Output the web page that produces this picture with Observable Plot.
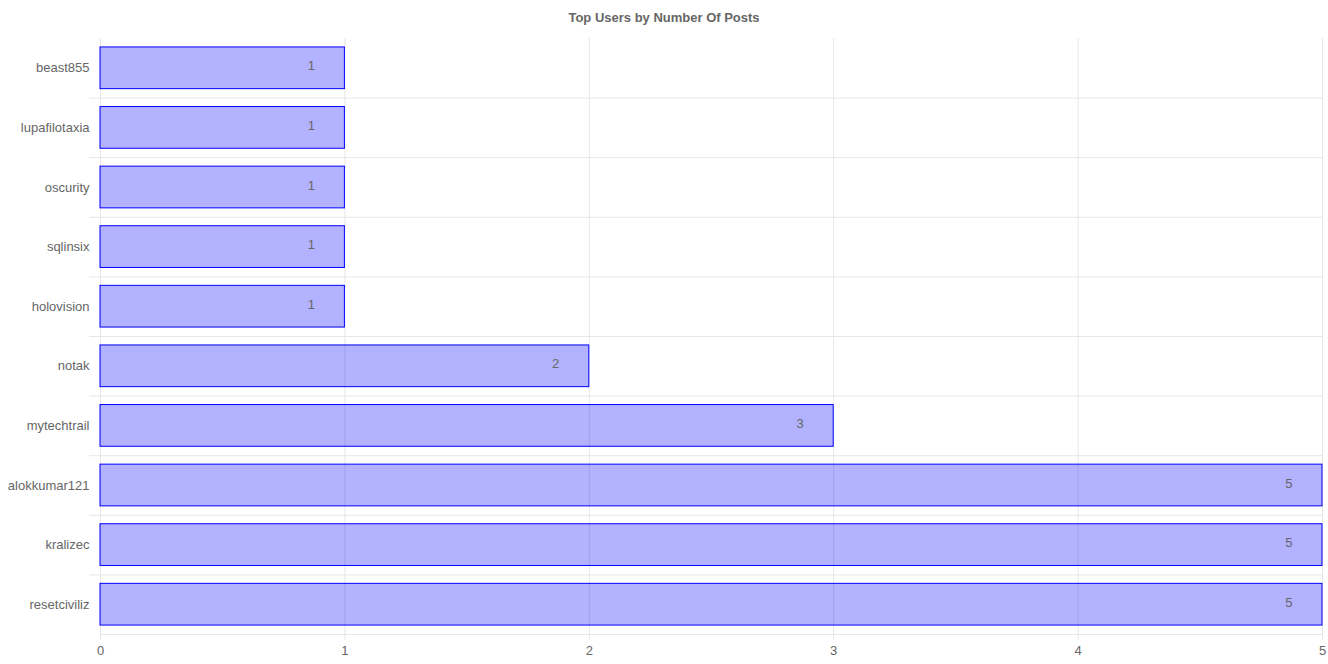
<!DOCTYPE html>
<html>
<head>
<meta charset="utf-8">
<script src="https://cdn.jsdelivr.net/npm/d3@7"></script>
<script src="https://cdn.jsdelivr.net/npm/@observablehq/plot@0.6"></script>
<style>
  html, body { margin: 0; padding: 0; background: #fff; }
  #title { height: 30px; font: bold 13px "Liberation Sans", Arial, sans-serif; line-height: 36px; text-align: center; color: #666; overflow: visible; }
  #chart svg { display: block; }
</style>
</head>
<body>
<div id="title">Top Users by Number Of Posts</div>
<div id="chart"></div>
<script>
const users = ["beast855", "lupafilotaxia", "oscurity", "sqlinsix", "holovision", "notak", "mytechtrail", "alokkumar121", "kralizec", "resetciviliz"];
const posts = [1, 1, 1, 1, 1, 2, 3, 5, 5, 5];
const xTicks = [0, 1, 2, 3, 4, 5];

const data = users.map((u, i) => ({user: u, posts: posts[i]}));

const W = 1328, H = 634, mTop = 8, mBottom = 30, mLeft = 100, mRight = 6;
const step = (H - mTop - mBottom) / users.length;
const grid = "#e6e6e6";

const chart = Plot.plot({
  width: W,
  height: H,
  marginTop: mTop,
  marginBottom: mBottom,
  marginLeft: mLeft,
  marginRight: mRight,
  style: {fontFamily: "'Liberation Sans', Arial, sans-serif", fontSize: "13px", color: "#666", background: "#fff", overflow: "visible"},
  x: {domain: [0, 5], ticks: xTicks, tickFormat: d3.format("d"), tickSize: 0, tickPadding: 11, label: null},
  y: {domain: users, paddingInner: 0.3, paddingOuter: 0.15, round: false, tickSize: 0, tickPadding: 11, label: null},
  marks: [
    Plot.ruleX(xTicks, {x: d => d, stroke: grid, insetBottom: -6}),
    Plot.ruleY(users.slice(0, -1), {y: d => d, dy: step / 2, stroke: grid, insetLeft: -11}),
    Plot.ruleY(users.slice(-1), {y: d => d, dy: step / 2, stroke: grid}),
    Plot.barX(data, {y: "user", x: "posts", fill: "#0000ff", fillOpacity: 0.3, stroke: "#0000ff", strokeWidth: 1}),
    Plot.text(data, {y: "user", x: "posts", text: d => String(d.posts), textAnchor: "end", dx: -30, dy: -2, fill: "#666", fontSize: 13})
  ]
});
document.getElementById("chart").appendChild(chart);
</script>
</body>
</html>
